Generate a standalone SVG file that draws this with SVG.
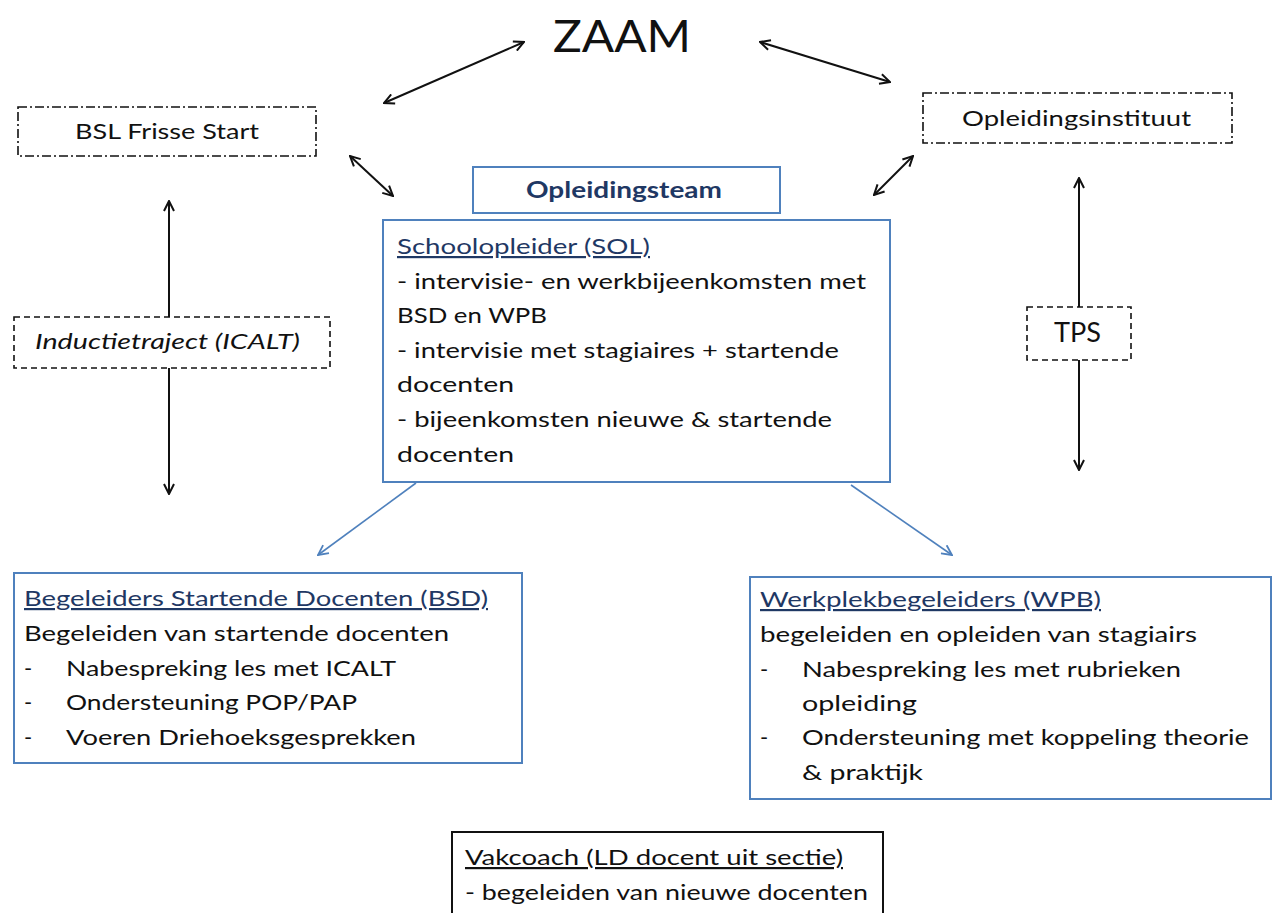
<svg xmlns="http://www.w3.org/2000/svg" width="1273" height="913" viewBox="0 0 1273 913">
<defs>
<marker id="ah" viewBox="0 0 12 12" refX="11" refY="6" markerWidth="12" markerHeight="12" markerUnits="userSpaceOnUse" orient="auto-start-reverse">
<path d="M1,1 L11,6 L1,11" fill="none" stroke="#111" stroke-width="2"/>
</marker>
<marker id="ahb" viewBox="0 0 12 12" refX="11" refY="6" markerWidth="12" markerHeight="12" markerUnits="userSpaceOnUse" orient="auto-start-reverse">
<path d="M1,1 L11,6 L1,11" fill="none" stroke="#4F81BD" stroke-width="1.8"/>
</marker>
<style>
text{font-family:Lato,"Liberation Sans",sans-serif;font-size:22px;fill:#111}
.h{fill:#1F3864;text-decoration:underline}
.hk{fill:#111;text-decoration:underline}
.big{font-size:45px}
.tps{font-size:26px}
.team{font-weight:bold;fill:#1F3864}
.blue{fill:#fff;stroke:#4F81BD;stroke-width:2}
.dash{fill:#fff;stroke:#111;stroke-width:1.6;stroke-dasharray:6 4}
.dd{fill:#fff;stroke:#111;stroke-width:1.6;stroke-dasharray:9 3 2 3}
.bl{stroke:#111;stroke-width:2;fill:none}
.bb{stroke:#4F81BD;stroke-width:1.6;fill:none}
</style>
</defs>
<rect width="1273" height="913" fill="#fff"/>
<g id="connectors">
<line class="bl" x1="384" y1="103" x2="524" y2="42" marker-start="url(#ah)" marker-end="url(#ah)"/>
<line class="bl" x1="760" y1="42" x2="890" y2="82" marker-start="url(#ah)" marker-end="url(#ah)"/>
<line class="bl" x1="350" y1="156" x2="393" y2="196" marker-start="url(#ah)" marker-end="url(#ah)"/>
<line class="bl" x1="913" y1="156" x2="874" y2="195" marker-start="url(#ah)" marker-end="url(#ah)"/>
<line class="bl" x1="169" y1="317" x2="169" y2="201" marker-end="url(#ah)"/>
<line class="bl" x1="169" y1="368" x2="169" y2="494" marker-end="url(#ah)"/>
<line class="bl" x1="1079" y1="307" x2="1079" y2="178" marker-end="url(#ah)"/>
<line class="bl" x1="1079" y1="360" x2="1079" y2="470" marker-end="url(#ah)"/>
<line class="bb" x1="416" y1="483" x2="318" y2="555" marker-end="url(#ahb)"/>
<line class="bb" x1="851" y1="485" x2="952" y2="555" marker-end="url(#ahb)"/>
</g>
<g id="zaam">
<text class="big" x="553" y="52" textLength="138" lengthAdjust="spacingAndGlyphs">ZAAM</text>
</g>
<g id="bsl">
<rect class="dd" x="18" y="107" width="298" height="49"/>
<text x="75" y="139" textLength="184" lengthAdjust="spacingAndGlyphs">BSL Frisse Start</text>
</g>
<g id="opleidingsinstituut">
<rect class="dd" x="923" y="93" width="309" height="50"/>
<text x="962" y="126" textLength="229" lengthAdjust="spacingAndGlyphs">Opleidingsinstituut</text>
</g>
<g id="opleidingsteam">
<rect class="blue" x="473" y="167" width="307" height="46"/>
<text class="team" x="526" y="198" textLength="196" lengthAdjust="spacingAndGlyphs">Opleidingsteam</text>
</g>
<g id="sol">
<rect class="blue" x="383" y="220" width="507" height="262"/>
<text class="h" x="397" y="254" textLength="253" lengthAdjust="spacingAndGlyphs">Schoolopleider (SOL)</text>
<text x="397" y="289" textLength="469" lengthAdjust="spacingAndGlyphs">- intervisie- en werkbijeenkomsten met</text>
<text x="397" y="323" textLength="150" lengthAdjust="spacingAndGlyphs">BSD en WPB</text>
<text x="397" y="358" textLength="442" lengthAdjust="spacingAndGlyphs">- intervisie met stagiaires + startende</text>
<text x="397" y="392" textLength="117" lengthAdjust="spacingAndGlyphs">docenten</text>
<text x="397" y="427" textLength="435" lengthAdjust="spacingAndGlyphs">- bijeenkomsten nieuwe &amp; startende</text>
<text x="397" y="462" textLength="117" lengthAdjust="spacingAndGlyphs">docenten</text>
</g>
<g id="inductietraject">
<rect class="dash" x="14" y="317" width="316" height="51"/>
<text x="35" y="349" font-style="italic" textLength="265" lengthAdjust="spacingAndGlyphs">Inductietraject (ICALT)</text>
</g>
<g id="tps">
<rect class="dash" x="1027" y="307" width="104" height="53"/>
<text class="tps" x="1054" y="342" textLength="47" lengthAdjust="spacingAndGlyphs">TPS</text>
</g>
<g id="bsd">
<rect class="blue" x="14" y="573" width="508" height="190"/>
<text class="h" x="24" y="606" textLength="464" lengthAdjust="spacingAndGlyphs">Begeleiders Startende Docenten (BSD)</text>
<text x="24" y="641" textLength="425" lengthAdjust="spacingAndGlyphs">Begeleiden van startende docenten</text>
<text x="24" y="676">-</text>
<text x="66" y="676" textLength="330" lengthAdjust="spacingAndGlyphs">Nabespreking les met ICALT</text>
<text x="24" y="710">-</text>
<text x="66" y="710" textLength="291" lengthAdjust="spacingAndGlyphs">Ondersteuning POP/PAP</text>
<text x="24" y="745">-</text>
<text x="66" y="745" textLength="350" lengthAdjust="spacingAndGlyphs">Voeren Driehoeksgesprekken</text>
</g>
<g id="wpb">
<rect class="blue" x="750" y="577" width="521" height="222"/>
<text class="h" x="760" y="607" textLength="341" lengthAdjust="spacingAndGlyphs">Werkplekbegeleiders (WPB)</text>
<text x="760" y="642" textLength="437" lengthAdjust="spacingAndGlyphs">begeleiden en opleiden van stagiairs</text>
<text x="760" y="677">-</text>
<text x="802" y="677" textLength="379" lengthAdjust="spacingAndGlyphs">Nabespreking les met rubrieken</text>
<text x="802" y="711" textLength="115" lengthAdjust="spacingAndGlyphs">opleiding</text>
<text x="760" y="745">-</text>
<text x="802" y="745" textLength="447" lengthAdjust="spacingAndGlyphs">Ondersteuning met koppeling theorie</text>
<text x="802" y="780" textLength="121" lengthAdjust="spacingAndGlyphs">&amp; praktijk</text>
</g>
<g id="vakcoach">
<rect x="452" y="832" width="431" height="100" fill="#fff" stroke="#111" stroke-width="2"/>
<text class="hk" x="465" y="865" textLength="378" lengthAdjust="spacingAndGlyphs">Vakcoach (LD docent uit sectie)</text>
<text x="465" y="900" textLength="403" lengthAdjust="spacingAndGlyphs">- begeleiden van nieuwe docenten</text>
</g>
</svg>
